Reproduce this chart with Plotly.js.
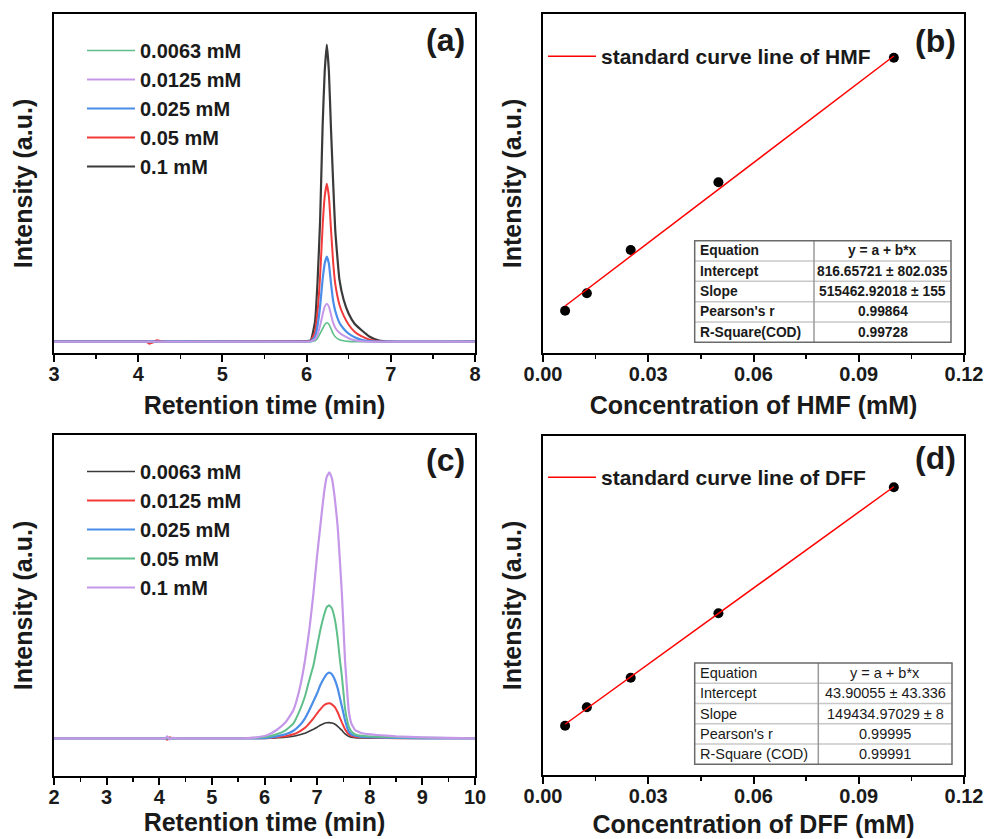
<!DOCTYPE html>
<html>
<head>
<meta charset="utf-8">
<script src="https://cdn.plot.ly/plotly-3.0.1.min.js"></script>
<style>html,body{margin:0;padding:0;background:#fff;}#chart{width:989px;height:839px;}</style>
</head>
<body>
<div id="chart"></div>
<script>
// ---------- DATA ----------
// Panel (a): HMF chromatograms
const timeA = [3.0, 4.0, 4.1, 4.13, 4.17, 4.22, 4.3, 5.0, 5.8, 6.0, 6.05, 6.1, 6.13, 6.16, 6.19, 6.215, 6.24, 6.265, 6.29, 6.315, 6.34, 6.39, 6.44, 6.5, 6.57, 6.65, 6.75, 6.85, 7.0, 8.0];
const hmf0063 = [0,0,0,0,0,0,0,0,0,0,0,1,3.5,8,13,17,19,17.5,13,8,5,2,1,0.3,0,0,0,0,0,0];
const hmf0125 = [0,0,0,0,0,0,0,0,0,0,0.3,2.5,7,16,27,35,38,35,27,19,14,9,6,3.5,1.5,0.5,0,0,0,0];
const hmf025  = [0,0,0,0,0,0,0,0,0,0.2,0.5,5,16,35,62,78,85,78,58,41,31,19,13,8,4.5,2,0.5,0,0,0];
const hmf05   = [0,0,0,-2,-1,1.5,0,0,0.2,0.4,1,10,30,65,115,145,158,145,112,80,58,37,26,17,10,5.5,2,0.5,0,0];
const hmf1    = [0,0,0,0,0,0,0,0,0.3,0.5,1.5,20,60,120,215,270,297,270,212,160,112,62,42,28,18,11.7,5,1.5,0,0];

// Panel (c): DFF chromatograms
const timeC = [2.0, 4.0, 4.12, 4.15, 4.2, 4.25, 4.35, 5.6, 5.85, 6.05, 6.23, 6.4, 6.55, 6.67, 6.77, 6.85, 6.93, 7.0, 7.06, 7.13, 7.18, 7.23, 7.28, 7.34, 7.39, 7.43, 7.47, 7.5, 7.53, 7.57, 7.6, 7.65, 7.72, 7.85, 8.13, 8.5, 9.0, 10.0];
const dff0063 = [0,0,0,0,0,0,0,0,0,0,0.5,1,2,3.5,5,7,9,11,13,14.8,15.5,15.7,15.2,14,12,10,8,6,4.5,3,2,1.2,0.6,0.3,0,0,0,0];
const dff0125 = [0,0,0,-1.5,1,0,0,0,0,0,1,2,4,7,10.5,15,20,25,29,33,34.5,35,34,31,26,21,16,12.5,9,6,4,2.5,1.5,1,0.5,0,0,0];
const dff025  = [0,0,0,0,0,0,0,0,0,0.5,2,4,7.5,13,20,28,37,45,53,60,64,65.7,64,58,50,41,32,25,18,11,7,4,2.5,1.5,1,0.5,0,0];
const dff05   = [0,0,0,0,0,0,0,0,0.5,1.5,4,8,15,28,42,58,73,92,108,123,131,133,130,118,100,80,62,46,30,18,12,7,4,2.5,1.5,1,0.5,0];
const dff1    = [0,0,0,2,-1,0.5,0,0,1,3,8.3,16,28.3,50,78,108,145,183,212,245,261,266,260,238,212,180,145,112,78,48,28,15,8.3,5,3.3,2,1,0];

const concLabels = ['0.0063 mM', '0.0125 mM', '0.025 mM', '0.05 mM', '0.1 mM'];

// Panel (b): HMF standard curve
const hmfConc = [0.0063, 0.0125, 0.025, 0.05, 0.1];
const hmfIntensity = [4065, 7390, 15650, 28580, 52360];
const hmfFitX = [0.0063, 0.1];
const hmfFitY = [4960, 52690];
const hmfTableLabels = ['Equation', 'Intercept', 'Slope', "Pearson's r", 'R-Square(COD)'];
const hmfTableValues = ['y = a + b*x', '816.65721 ± 802.035', '515462.92018 ± 155', '0.99864', '0.99728'];

// Panel (d): DFF standard curve
const dffConc = [0.0063, 0.0125, 0.025, 0.05, 0.1];
const dffIntensity = [985, 2066, 3805, 7587, 14990];
const dffFitX = [0.0063, 0.1];
const dffFitY = [1070, 15020];
const dffTableLabels = ['Equation', 'Intercept', 'Slope', "Pearson's r", 'R-Square (COD)'];
const dffTableValues = ['y = a + b*x', '43.90055 ± 43.336', '149434.97029 ± 8', '0.99995', '0.99991'];

// ---------- LAYOUT HELPERS ----------
const W = 989, H = 839;
const px = v => v / W;
const py = v => 1 - v / H;
const FONT = 'Arial, "Liberation Sans", sans-serif';
const TXT = '#1a1a1a';

const colGreen = '#5fbf8b', colPurple = '#c597e9', colBlue = '#4b8ee9', colRed = '#f23a3a', colBlack = '#3a3a3a';

function line(x, y, name, color, width, xa, ya, lg, rank) {
  return {x: x, y: y, name: name, type: 'scatter', mode: 'lines',
    line: {color: color, width: width, shape: 'spline', smoothing: 0.4},
    xaxis: xa, yaxis: ya, legend: lg, legendrank: rank, hoverinfo: 'skip'};
}

const traces = [
  // panel a (draw order: black, red, blue, green, purple)
  line(timeA, hmf1, concLabels[4], colBlack, 2.2, 'x', 'y', 'legend', 5),
  line(timeA, hmf05, concLabels[3], colRed, 2, 'x', 'y', 'legend', 4),
  line(timeA, hmf025, concLabels[2], colBlue, 2.2, 'x', 'y', 'legend', 3),
  line(timeA, hmf0063, concLabels[0], colGreen, 1.6, 'x', 'y', 'legend', 1),
  line(timeA, hmf0125, concLabels[1], colPurple, 2, 'x', 'y', 'legend', 2),
  // panel b
  {x: hmfConc, y: hmfIntensity, type: 'scatter', mode: 'markers', showlegend: false,
   marker: {color: '#000', size: 10}, xaxis: 'x2', yaxis: 'y2', hoverinfo: 'skip'},
  {x: hmfFitX, y: hmfFitY, type: 'scatter', mode: 'lines', name: 'standard curve line of HMF',
   line: {color: '#ff0000', width: 1.5}, xaxis: 'x2', yaxis: 'y2', legend: 'legend2', hoverinfo: 'skip'},
  // panel c
  line(timeC, dff0063, concLabels[0], colBlack, 1.6, 'x3', 'y3', 'legend3', 1),
  line(timeC, dff0125, concLabels[1], colRed, 2, 'x3', 'y3', 'legend3', 2),
  line(timeC, dff025, concLabels[2], colBlue, 2.2, 'x3', 'y3', 'legend3', 3),
  line(timeC, dff05, concLabels[3], colGreen, 2, 'x3', 'y3', 'legend3', 4),
  line(timeC, dff1, concLabels[4], colPurple, 2.2, 'x3', 'y3', 'legend3', 5),
  // panel d
  {x: dffConc, y: dffIntensity, type: 'scatter', mode: 'markers', showlegend: false,
   marker: {color: '#000', size: 10}, xaxis: 'x4', yaxis: 'y4', hoverinfo: 'skip'},
  {x: dffFitX, y: dffFitY, type: 'scatter', mode: 'lines', name: 'standard curve line of DFF',
   line: {color: '#ff0000', width: 1.5}, xaxis: 'x4', yaxis: 'y4', legend: 'legend4', hoverinfo: 'skip'}
];

function xAxis(d0, d1, range, dtick, minor, fmt, title, anchor, standoff) {
  return {domain: [px(d0), px(d1)], range: range, anchor: anchor, dtick: dtick, tick0: 0,
    tickformat: fmt, ticks: 'outside', ticklen: 7, tickwidth: 2, tickcolor: '#000',
    ticklabelstandoff: -5,
    minor: {dtick: minor, ticks: 'outside', ticklen: 4, tickwidth: 1.5, tickcolor: '#000'},
    showline: true, linecolor: '#000', linewidth: 2, mirror: true,
    showgrid: false, zeroline: false,
    tickfont: {family: FONT, size: 20, weight: 'bold', color: TXT},
    title: {text: title, font: {family: FONT, size: 25, weight: 'bold', color: TXT}, standoff: standoff}};
}
function yAxis(top, bottom, range, anchor) {
  return {domain: [py(bottom), py(top)], range: range, anchor: anchor,
    showticklabels: false, ticks: '', showline: true, linecolor: '#000', linewidth: 2, mirror: true,
    showgrid: false, zeroline: false,
    title: {text: 'Intensity (a.u.)', font: {family: FONT, size: 25, weight: 'bold', color: TXT}, standoff: 12}};
}

function legendAt(x, y, size) {
  return {x: px(x), y: py(y), xanchor: 'left', yanchor: 'top', bgcolor: 'rgba(0,0,0,0)',
    borderwidth: 0, itemwidth: 48, traceorder: 'normal',
    font: {family: FONT, size: size, weight: 'bold', color: TXT}};
}

// tables
const shapes = [];
const annotations = [];
function table(left, right, divider, top, bottom, labels, values, bold, size) {
  const n = labels.length;
  const rowH = (bottom - top) / n;
  for (let i = 1; i < n; i++) {
    const yy = top + i * rowH;
    shapes.push({type: 'line', xref: 'paper', yref: 'paper', x0: px(left), x1: px(right), y0: py(yy), y1: py(yy),
      line: {color: '#c8c8c8', width: 1.5}});
  }
  shapes.push({type: 'line', xref: 'paper', yref: 'paper', x0: px(divider), x1: px(divider), y0: py(top), y1: py(bottom),
    line: {color: '#9a9a9a', width: 1.5}});
  shapes.push({type: 'rect', xref: 'paper', yref: 'paper', x0: px(left), x1: px(right), y0: py(top), y1: py(bottom),
    line: {color: '#6a6a6a', width: 1.5}, fillcolor: 'rgba(0,0,0,0)'});
  for (let i = 0; i < n; i++) {
    const yc = top + (i + 0.5) * rowH;
    annotations.push({xref: 'paper', yref: 'paper', x: px(left + 3), y: py(yc), xanchor: 'left', yanchor: 'middle',
      text: labels[i], showarrow: false, font: {family: FONT, size: size, weight: bold ? 'bold' : 'normal', color: TXT}});
    annotations.push({xref: 'paper', yref: 'paper', x: px((divider + right) / 2), y: py(yc), xanchor: 'center', yanchor: 'middle',
      text: values[i], showarrow: false, font: {family: FONT, size: size, weight: bold ? 'bold' : 'normal', color: TXT}});
  }
}
shapes.push({type: 'rect', xref: 'paper', yref: 'paper', x0: px(694.7), x1: px(951), y0: py(240.7), y1: py(342.3), line: {width: 0}, fillcolor: '#fff', layer: 'above'});
shapes.push({type: 'rect', xref: 'paper', yref: 'paper', x0: px(694.7), x1: px(952), y0: py(663), y1: py(764.3), line: {width: 0}, fillcolor: '#fff', layer: 'above'});
table(694.7, 951, 814, 240.7, 342.3, hmfTableLabels, hmfTableValues, true, 13.8);
table(694.7, 952, 818.3, 663, 764.3, dffTableLabels, dffTableValues, false, 14.5);

// panel labels
[['(a)', 445, 40], ['(b)', 935, 41], ['(c)', 445, 460], ['(d)', 935, 458]].forEach(p => {
  annotations.push({xref: 'paper', yref: 'paper', x: px(p[1]), y: py(p[2]), xanchor: 'center', yanchor: 'middle',
    text: p[0], showarrow: false, font: {family: FONT, size: 32, weight: 'bold', color: TXT}});
});

const layout = {
  width: W, height: H, autosize: false,
  margin: {l: 0, r: 0, t: 0, b: 0, pad: 0},
  paper_bgcolor: '#fff', plot_bgcolor: 'rgba(0,0,0,0)',
  font: {family: FONT, color: TXT},
  showlegend: true,
  xaxis: xAxis(54, 475, [3, 8], 1, 0.5, '', 'Retention time (min)', 'y', 12),
  yaxis: yAxis(14, 353, [-11.3, 327.7], 'x'),
  xaxis2: xAxis(543, 964, [0, 0.12], 0.03, 0.015, '.2f', 'Concentration of HMF (mM)', 'y2', 12),
  yaxis2: yAxis(14, 353, [-4011, 60705], 'x2'),
  xaxis3: xAxis(54, 475, [2, 10], 1, 0.5, '', 'Retention time (min)', 'y3', 6),
  yaxis3: yAxis(435, 776, [-37.7, 303.3], 'x3'),
  xaxis4: xAxis(543, 964, [0, 0.12], 0.03, 0.015, '.2f', 'Concentration of DFF (mM)', 'y4', 9),
  yaxis4: yAxis(436, 775, [-1910, 18000], 'x4'),
  legend: legendAt(82, 31, 20),
  legend2: legendAt(543, 36, 21),
  legend3: legendAt(82, 452, 20),
  legend4: legendAt(543, 457, 21),
  shapes: shapes,
  annotations: annotations
};

Plotly.newPlot('chart', traces, layout, {displayModeBar: false, staticPlot: true});
</script>
</body>
</html>
